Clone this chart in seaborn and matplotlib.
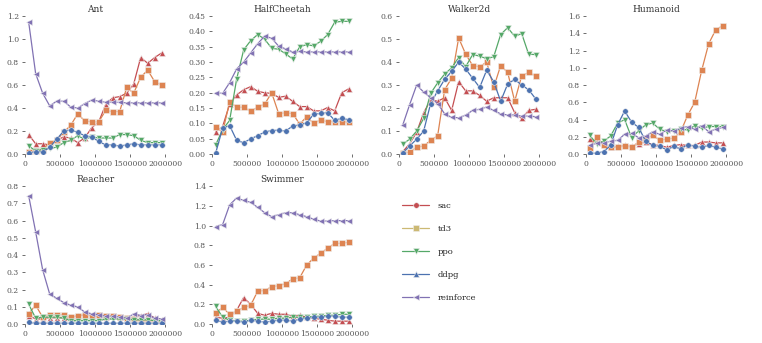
import numpy as np
import pandas as pd
import matplotlib
matplotlib.use("Agg")
import matplotlib.pyplot as plt
from matplotlib.lines import Line2D
import seaborn as sns

# шаги обучения (одинаковые для всех сред)
steps = [50000 + 100000 * i for i in range(20)]

envs = ["Ant", "HalfCheetah", "Walker2d", "Humanoid", "Reacher", "Swimmer"]
algos = ["sac", "td3", "ppo", "ddpg", "reinforce"]

ant_sac = [0.17, 0.09, 0.09, 0.08, 0.12, 0.15, 0.14, 0.10, 0.14, 0.23, 0.28, 0.43, 0.49, 0.50, 0.53, 0.61, 0.84, 0.79, 0.84, 0.88]
ant_td3 = [0.02, 0.03, 0.04, 0.10, 0.12, 0.19, 0.25, 0.35, 0.29, 0.28, 0.28, 0.38, 0.37, 0.37, 0.58, 0.53, 0.67, 0.73, 0.63, 0.60]
ant_ppo = [0.07, 0.03, 0.04, 0.05, 0.06, 0.10, 0.12, 0.16, 0.13, 0.15, 0.14, 0.14, 0.14, 0.17, 0.17, 0.16, 0.12, 0.10, 0.10, 0.10]
ant_ddpg = [0.01, 0.02, 0.02, 0.06, 0.13, 0.20, 0.21, 0.19, 0.16, 0.15, 0.11, 0.08, 0.08, 0.07, 0.08, 0.09, 0.08, 0.08, 0.08, 0.08]
ant_reinforce = [1.15, 0.70, 0.53, 0.42, 0.46, 0.46, 0.41, 0.40, 0.44, 0.47, 0.46, 0.45, 0.45, 0.45, 0.445, 0.445, 0.445, 0.445, 0.445, 0.445]

hc_sac = [0.073, 0.09, 0.163, 0.193, 0.21, 0.22, 0.205, 0.20, 0.198, 0.185, 0.189, 0.172, 0.155, 0.155, 0.141, 0.141, 0.152, 0.141, 0.20, 0.213]
hc_td3 = [0.087, 0.072, 0.170, 0.153, 0.153, 0.140, 0.153, 0.163, 0.200, 0.132, 0.135, 0.132, 0.098, 0.122, 0.100, 0.112, 0.105, 0.106, 0.106, 0.104]
hc_ppo = [0.03, 0.08, 0.11, 0.245, 0.34, 0.37, 0.39, 0.375, 0.345, 0.342, 0.327, 0.31, 0.35, 0.357, 0.353, 0.368, 0.39, 0.43, 0.433, 0.433]
hc_ddpg = [0.003, 0.085, 0.093, 0.045, 0.037, 0.050, 0.060, 0.072, 0.077, 0.078, 0.075, 0.092, 0.095, 0.102, 0.130, 0.133, 0.135, 0.110, 0.117, 0.112]
hc_reinforce = [0.20, 0.198, 0.233, 0.278, 0.30, 0.33, 0.36, 0.385, 0.378, 0.352, 0.343, 0.333, 0.335, 0.333, 0.333, 0.333, 0.333, 0.333, 0.333, 0.333]

w_sac = [0.01, 0.045, 0.095, 0.18, 0.235, 0.23, 0.245, 0.19, 0.315, 0.275, 0.275, 0.255, 0.23, 0.245, 0.245, 0.245, 0.18, 0.155, 0.19, 0.195]
w_td3 = [0.005, 0.008, 0.03, 0.035, 0.06, 0.08, 0.28, 0.33, 0.505, 0.435, 0.385, 0.38, 0.40, 0.29, 0.385, 0.355, 0.23, 0.34, 0.355, 0.34]
w_ppo = [0.043, 0.065, 0.10, 0.155, 0.264, 0.31, 0.348, 0.375, 0.42, 0.38, 0.433, 0.426, 0.415, 0.423, 0.52, 0.55, 0.512, 0.524, 0.434, 0.433]
w_ddpg = [0.005, 0.035, 0.065, 0.10, 0.22, 0.275, 0.325, 0.36, 0.40, 0.37, 0.33, 0.29, 0.365, 0.315, 0.23, 0.305, 0.325, 0.30, 0.28, 0.24]
w_reinforce = [0.125, 0.215, 0.30, 0.27, 0.245, 0.22, 0.175, 0.16, 0.158, 0.17, 0.19, 0.195, 0.205, 0.19, 0.175, 0.17, 0.17, 0.165, 0.165, 0.163]

hu_sac = [0.17, 0.15, 0.12, 0.08, 0.09, 0.10, 0.09, 0.12, 0.14, 0.11, 0.10, 0.08, 0.10, 0.11, 0.10, 0.10, 0.14, 0.14, 0.13, 0.13]
hu_td3 = [0.07, 0.20, 0.11, 0.08, 0.08, 0.09, 0.08, 0.14, 0.17, 0.22, 0.16, 0.175, 0.185, 0.26, 0.45, 0.60, 0.97, 1.28, 1.44, 1.49]
hu_ppo = [0.22, 0.12, 0.15, 0.21, 0.36, 0.40, 0.19, 0.27, 0.34, 0.36, 0.29, 0.26, 0.27, 0.29, 0.28, 0.33, 0.30, 0.32, 0.32, 0.32]
hu_ddpg = [0.01, 0.01, 0.03, 0.10, 0.34, 0.50, 0.37, 0.31, 0.15, 0.10, 0.09, 0.05, 0.09, 0.06, 0.11, 0.09, 0.08, 0.10, 0.08, 0.06]
hu_reinforce = [0.10, 0.13, 0.13, 0.15, 0.16, 0.23, 0.24, 0.19, 0.21, 0.26, 0.23, 0.28, 0.27, 0.30, 0.32, 0.29, 0.33, 0.26, 0.29, 0.31]

re_sac = [0.05, 0.03, 0.03, 0.035, 0.035, 0.035, 0.035, 0.05, 0.05, 0.05, 0.04, 0.04, 0.05, 0.04, 0.035, 0.04, 0.05, 0.06, 0.035, 0.025]
re_td3 = [0.06, 0.11, 0.04, 0.055, 0.055, 0.055, 0.04, 0.05, 0.055, 0.05, 0.055, 0.05, 0.045, 0.04, 0.035, 0.03, 0.02, 0.02, 0.02, 0.02]
re_ppo = [0.115, 0.035, 0.04, 0.04, 0.04, 0.035, 0.02, 0.02, 0.02, 0.02, 0.02, 0.03, 0.03, 0.03, 0.03, 0.025, 0.025, 0.025, 0.02, 0.02]
re_ddpg = [0.01, 0.005, 0.005, 0.005, 0.005, 0.005, 0.005, 0.005, 0.005, 0.005, 0.005, 0.005, 0.005, 0.005, 0.005, 0.005, 0.005, 0.005, 0.005, 0.005]
re_reinforce = [0.745, 0.535, 0.315, 0.175, 0.15, 0.125, 0.11, 0.10, 0.07, 0.06, 0.055, 0.045, 0.045, 0.04, 0.035, 0.06, 0.05, 0.055, 0.035, 0.03]

sw_sac = [0.07, 0.06, 0.07, 0.14, 0.27, 0.20, 0.11, 0.09, 0.11, 0.10, 0.10, 0.08, 0.09, 0.07, 0.06, 0.05, 0.04, 0.03, 0.03, 0.03]
sw_td3 = [0.11, 0.17, 0.10, 0.13, 0.17, 0.19, 0.335, 0.34, 0.38, 0.39, 0.41, 0.46, 0.47, 0.60, 0.67, 0.72, 0.77, 0.82, 0.82, 0.83]
sw_ppo = [0.18, 0.07, 0.04, 0.03, 0.03, 0.04, 0.05, 0.05, 0.05, 0.06, 0.06, 0.07, 0.07, 0.07, 0.08, 0.08, 0.09, 0.09, 0.10, 0.10]
sw_ddpg = [0.04, 0.02, 0.03, 0.03, 0.02, 0.04, 0.03, 0.02, 0.03, 0.04, 0.04, 0.03, 0.05, 0.06, 0.07, 0.07, 0.08, 0.08, 0.07, 0.07]
sw_reinforce = [0.99, 1.01, 1.21, 1.28, 1.255, 1.235, 1.185, 1.13, 1.09, 1.11, 1.13, 1.13, 1.11, 1.09, 1.065, 1.045, 1.045, 1.05, 1.05, 1.05]

data = {
    "Ant": [ant_sac, ant_td3, ant_ppo, ant_ddpg, ant_reinforce],
    "HalfCheetah": [hc_sac, hc_td3, hc_ppo, hc_ddpg, hc_reinforce],
    "Walker2d": [w_sac, w_td3, w_ppo, w_ddpg, w_reinforce],
    "Humanoid": [hu_sac, hu_td3, hu_ppo, hu_ddpg, hu_reinforce],
    "Reacher": [re_sac, re_td3, re_ppo, re_ddpg, re_reinforce],
    "Swimmer": [sw_sac, sw_td3, sw_ppo, sw_ddpg, sw_reinforce],
}

# верхняя граница оси y и шаг делений
y_top = {"Ant": (1.2, 0.2), "HalfCheetah": (0.45, 0.05), "Walker2d": (0.6, 0.1),
         "Humanoid": (1.6, 0.2), "Reacher": (0.8, 0.1), "Swimmer": (1.4, 0.2)}

deep = sns.color_palette("deep")
line_colors = {"sac": deep[3], "td3": deep[1], "ppo": deep[2], "ddpg": deep[0], "reinforce": deep[4]}
line_markers = {"sac": "^", "td3": "s", "ppo": "v", "ddpg": "o", "reinforce": "<"}

sns.set_style("ticks")
plt.rcParams["font.family"] = ["DejaVu Serif"]
plt.rcParams["xtick.color"] = "#555555"
plt.rcParams["ytick.color"] = "#555555"

fig, axes = plt.subplots(2, 4, figsize=(7.62, 3.43), dpi=100)
fig.subplots_adjust(left=0.033, right=0.953, bottom=0.055, top=0.953, wspace=0.335, hspace=0.232)
flat = axes.flatten()

for ax, env in zip(flat, envs):
    for algo, vals in zip(algos, data[env]):
        df = pd.DataFrame({"step": steps, "value": vals})
        sns.lineplot(data=df, x="step", y="value", ax=ax, color=line_colors[algo],
                     marker=line_markers[algo], markersize=4, linewidth=0.9,
                     markeredgecolor="#eeeeee", markeredgewidth=0.4)
    top, step = y_top[env]
    ax.set_xlim(0, 2000000)
    ax.set_ylim(0, top)
    ax.set_xticks([0, 500000, 1000000, 1500000, 2000000])
    ax.set_xticklabels(["0", "500000", "1000000", "1500000", "2000000"])
    yt = np.arange(0, top + step / 2, step)
    ax.set_yticks(yt)
    fmt = "{:.2f}" if env == "HalfCheetah" else "{:.1f}"
    ax.set_yticklabels([fmt.format(v) for v in yt])
    ax.tick_params(labelsize=5.5, length=2.5, width=0.6, pad=2)
    ax.set_xlabel("")
    ax.set_ylabel("")
    ax.set_title(env, fontsize=6.5, color="#333333", pad=3)
    sns.despine(ax=ax, left=True, bottom=True)

for ax in flat[6:]:
    ax.axis("off")

# легенда: маркеры отличаются от маркеров на графиках, как в оригинале
legend_colors = [deep[3], "#CCB974", deep[2], deep[0], deep[4]]
legend_markers = ["o", "s", "v", "^", "<"]
handles = [Line2D([0], [0], color=c, marker=m, markersize=4, linewidth=0.9,
                  markeredgecolor="#eeeeee", markeredgewidth=0.4)
           for c, m in zip(legend_colors, legend_markers)]
flat[6].legend(handles, algos, loc="upper left", bbox_to_anchor=(-0.03, 0.94),
               frameon=False, fontsize=6, labelspacing=1.8, handlelength=3.2,
               handletextpad=1.0)

plt.savefig("out.png", dpi=100)
